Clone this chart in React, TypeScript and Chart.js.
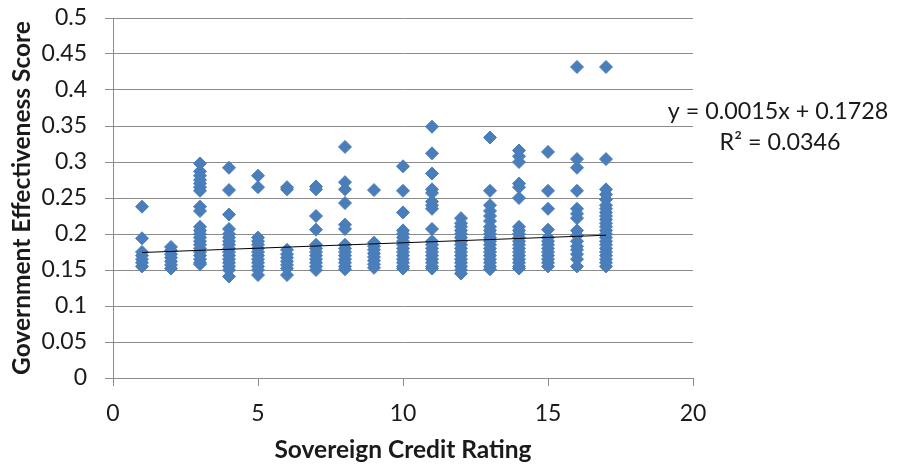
import React, { useEffect, useRef } from 'react';
import { Chart, registerables } from 'chart.js';

Chart.register(...registerables);

// Sovereign credit rating categories (x values)
const ratings = [1, 2, 3, 4, 5, 6, 7, 8, 9, 10, 11, 12, 13, 14, 15, 16, 17];

// Government effectiveness scores for each rating
const score1 = [0.238, 0.194, 0.175, 0.17, 0.165, 0.16, 0.155];
const score2 = [0.182, 0.177, 0.172, 0.167, 0.162, 0.157, 0.152];
const score3 = [0.298, 0.287, 0.281, 0.275, 0.27, 0.265, 0.26, 0.238, 0.232, 0.21, 0.205, 0.2, 0.195, 0.19, 0.185, 0.18, 0.175, 0.17, 0.165, 0.16, 0.158];
const score4 = [0.292, 0.261, 0.227, 0.207, 0.2, 0.195, 0.19, 0.185, 0.18, 0.175, 0.17, 0.165, 0.16, 0.155, 0.15, 0.141];
const score5 = [0.281, 0.265, 0.195, 0.19, 0.185, 0.18, 0.175, 0.17, 0.165, 0.16, 0.155, 0.15, 0.143];
const score6 = [0.265, 0.262, 0.178, 0.172, 0.167, 0.162, 0.157, 0.152, 0.143];
const score7 = [0.266, 0.262, 0.225, 0.206, 0.185, 0.18, 0.175, 0.17, 0.165, 0.16, 0.155, 0.15];
const score8 = [0.321, 0.272, 0.262, 0.243, 0.213, 0.207, 0.185, 0.18, 0.175, 0.17, 0.165, 0.16, 0.155, 0.151];
const score9 = [0.261, 0.188, 0.183, 0.178, 0.173, 0.168, 0.163, 0.158, 0.153];
const score10 = [0.294, 0.26, 0.23, 0.205, 0.2, 0.195, 0.19, 0.185, 0.18, 0.175, 0.17, 0.165, 0.16, 0.155, 0.152];
const score11 = [0.349, 0.312, 0.284, 0.262, 0.257, 0.245, 0.24, 0.235, 0.207, 0.19, 0.185, 0.18, 0.175, 0.17, 0.165, 0.16, 0.155, 0.152];
const score12 = [0.222, 0.215, 0.21, 0.205, 0.2, 0.195, 0.19, 0.185, 0.18, 0.175, 0.17, 0.165, 0.16, 0.155, 0.15, 0.145];
const score13 = [0.334, 0.26, 0.24, 0.232, 0.225, 0.218, 0.21, 0.205, 0.2, 0.195, 0.19, 0.185, 0.18, 0.175, 0.17, 0.165, 0.16, 0.155, 0.151];
const score14 = [0.316, 0.308, 0.3, 0.27, 0.265, 0.25, 0.21, 0.205, 0.2, 0.195, 0.19, 0.185, 0.18, 0.175, 0.17, 0.165, 0.16, 0.155, 0.152];
const score15 = [0.314, 0.26, 0.235, 0.206, 0.195, 0.19, 0.185, 0.18, 0.175, 0.17, 0.165, 0.16, 0.155];
const score16 = [0.432, 0.304, 0.292, 0.26, 0.235, 0.228, 0.222, 0.205, 0.198, 0.19, 0.183, 0.178, 0.172, 0.165, 0.155];
const score17 = [0.432, 0.304, 0.262, 0.255, 0.248, 0.24, 0.235, 0.23, 0.225, 0.22, 0.215, 0.21, 0.205, 0.2, 0.195, 0.19, 0.185, 0.18, 0.175, 0.17, 0.165, 0.16, 0.155];

const scoresByRating = [
  score1, score2, score3, score4, score5, score6, score7, score8, score9,
  score10, score11, score12, score13, score14, score15, score16, score17,
];

// Linear trendline as printed on the chart
const trendSlope = 0.0015;
const trendIntercept = 0.1728;
const trendX = [1, 17];
const trendLabel = 'y = 0.0015x + 0.1728';
const r2Label = 'R² = 0.0346';

const xTitle = 'Sovereign Credit Rating';
const yTitle = 'Government Effectiveness Score';

const FONT = 'Lato';
const TEXT = '#1a1a1a';
const GRID = '#8c8c8c';
const MARKER = '#4a7ebb';

export default function App() {
  const ref = useRef<HTMLCanvasElement | null>(null);

  useEffect(() => {
    if (!ref.current) return;
    const points: { x: number; y: number }[] = [];
    ratings.forEach((r, i) => {
      scoresByRating[i].forEach((v) => points.push({ x: r, y: v }));
    });
    const trend = trendX.map((x) => ({ x, y: trendSlope * x + trendIntercept }));

    const annotation = {
      id: 'trendAnnotation',
      afterDraw(chart: any) {
        const ctx = chart.ctx;
        ctx.save();
        ctx.fillStyle = TEXT;
        ctx.font = `23.3px ${FONT}`;
        ctx.textAlign = 'center';
        ctx.textBaseline = 'middle';
        ctx.fillText(trendLabel, 778, 111);
        ctx.fillText(r2Label, 780, 142);
        ctx.restore();
      },
    };

    const chart = new Chart(ref.current, {
      type: 'scatter',
      data: {
        datasets: [
          {
            type: 'line',
            data: trend,
            borderColor: '#000000',
            borderWidth: 1,
            pointRadius: 0,
            fill: false,
            order: 0,
          } as any,
          {
            data: points,
            pointStyle: 'rectRot',
            pointRadius: 6.5,
            pointBackgroundColor: MARKER,
            pointBorderColor: MARKER,
            pointBorderWidth: 1,
            order: 1,
          },
        ],
      },
      options: {
        animation: false,
        responsive: false,
        layout: { padding: { top: 18, right: 204, bottom: 0, left: 0 } },
        plugins: { legend: { display: false }, tooltip: { enabled: false } },
        scales: {
          x: {
            type: 'linear',
            min: 0,
            max: 20,
            afterFit: (s: any) => { s.height = 95; },
            ticks: { stepSize: 5, padding: 14, color: TEXT, font: { family: FONT, size: 23 } },
            grid: { drawOnChartArea: false, drawTicks: true, tickLength: 8, color: GRID },
            border: { display: true, color: GRID, width: 1 },
            title: {
              display: true,
              text: xTitle,
              color: TEXT,
              font: { family: FONT, size: 24.5, weight: 'bold' },
              padding: { top: 0, bottom: 8 },
            },
          },
          y: {
            type: 'linear',
            min: 0,
            max: 0.5,
            afterFit: (s: any) => {
              s.width = 113;
              s.paddingTop = 0;
              s.paddingBottom = 0;
            },
            ticks: {
              stepSize: 0.05,
              padding: 18,
              color: TEXT,
              font: { family: FONT, size: 23 },
              callback: (v: any) => String(Math.round(Number(v) * 100) / 100),
            },
            grid: { drawOnChartArea: true, drawTicks: true, tickLength: 8, color: GRID },
            border: { display: true, color: GRID, width: 1 },
            title: {
              display: true,
              text: yTitle,
              color: TEXT,
              font: { family: FONT, size: 24.5, weight: 'bold' },
              padding: { top: 7, bottom: 0 },
            },
          },
        },
      },
      plugins: [annotation],
    });
    return () => chart.destroy();
  }, []);

  return (
    <div style={{ position: 'fixed', left: 0, top: 0, width: 897, height: 473, background: '#fff' }}>
      <canvas ref={ref} width={897} height={473} style={{ display: 'block' }} />
    </div>
  );
}
